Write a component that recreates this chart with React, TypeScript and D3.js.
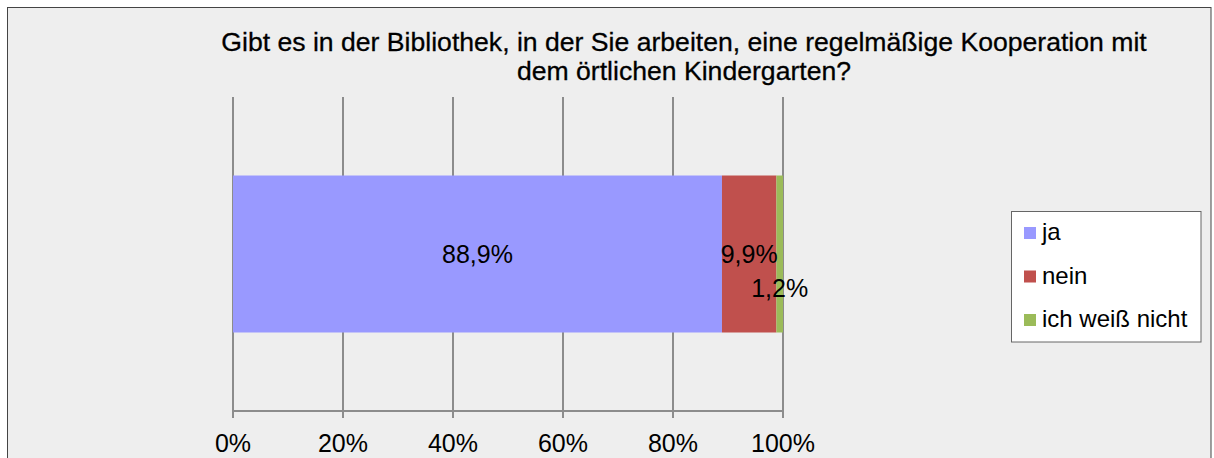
import React from "react";
import * as d3 from "d3";

const categories = ["ja", "nein", "ich weiß nicht"];
const values = [88.9, 9.9, 1.2];
const colors = ["#9999FF", "#C0504D", "#9BBB59"];
const ticks = [0, 20, 40, 60, 80, 100];
const titleLines = [
  "Gibt es in der Bibliothek, in der Sie arbeiten, eine regelmäßige Kooperation mit",
  "dem örtlichen Kindergarten?",
];

export default function App() {
  const W = 1214, H = 458;
  const x = d3.scaleLinear().domain([0, 100]).range([233, 783]);
  const y = d3.scaleBand().domain(["q"]).range([97, 411]).paddingInner(0).paddingOuter(0.5);
  const fmt = (v: number) => v.toFixed(1).replace(".", ",") + "%";
  const stack = values.reduce<{ s: number; e: number; v: number; i: number }[]>((acc, v, i) => {
    const s = acc.length ? acc[acc.length - 1].e : 0;
    acc.push({ s, e: s + v, v, i });
    return acc;
  }, []);
  const by = y("q") as number;
  const bh = y.bandwidth();
  const font = "'Liberation Sans', Arial, sans-serif";
  return (
    <svg width={W} height={H} style={{ position: "absolute", left: 0, top: 0 }} fontFamily={font}>
      <rect x={0} y={0} width={W} height={H} fill="#ffffff" />
      <rect x={7.5} y={7.5} width={1203.5} height={470} fill="#EEEEEE" stroke="#444" strokeWidth={1} />
      {titleLines.map((t, i) => (
        <text key={i} x={684} y={51 + i * 29} textAnchor="middle" fontSize={26.6} fill="#000" stroke="#000" strokeWidth={0.3}>
          {t}
        </text>
      ))}
      {ticks.map((t) => (
        <line key={t} x1={x(t)} x2={x(t)} y1={97} y2={418} stroke="#8c8c8c" strokeWidth={2} />
      ))}
      <line x1={x(0)} x2={x(100)} y1={411} y2={411} stroke="#8c8c8c" strokeWidth={2} />
      {stack.map((d) => (
        <rect key={d.i} x={x(d.s)} y={by} width={x(d.e) - x(d.s)} height={bh} fill={colors[d.i]} />
      ))}
      {stack.map((d) => (
        <text
          key={"l" + d.i}
          x={(x(d.s) + x(d.e)) / 2}
          y={by + bh / 2 + 9 + (d.i === 2 ? 34 : 0)}
          textAnchor="middle"
          fontSize={25}
          fill="#000"
        >
          {fmt(d.v)}
        </text>
      ))}
      {ticks.map((t) => (
        <text key={"t" + t} x={x(t)} y={452} textAnchor="middle" fontSize={25} fill="#000">
          {t}%
        </text>
      ))}
      <rect x={1011.5} y={211.5} width={189.5} height={130.5} fill="#ffffff" stroke="#666" strokeWidth={1} />
      {categories.map((c, i) => (
        <g key={c} transform={`translate(1024, ${240 + i * 43.5})`}>
          <rect x={0} y={-13} width={12} height={12} fill={colors[i]} />
          <text x={18} y={0} fontSize={24} fill="#000">
            {c}
          </text>
        </g>
      ))}
    </svg>
  );
}
